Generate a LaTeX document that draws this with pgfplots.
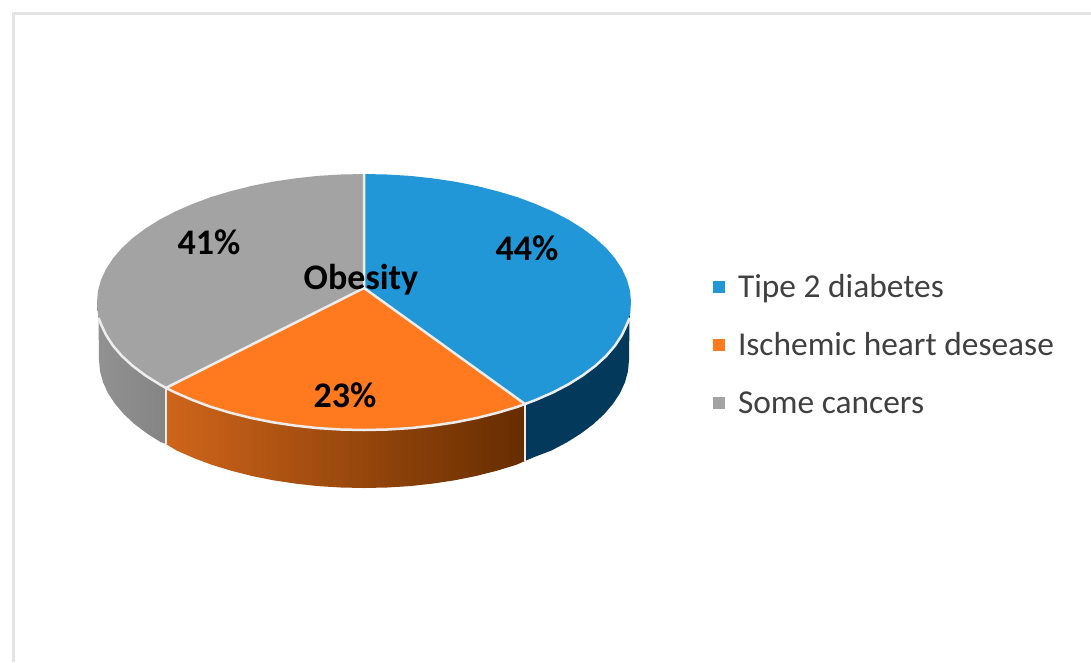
\documentclass[border=0pt]{standalone}
\usepackage{fontspec}
\setmainfont{Carlito}
\usepackage{pgfplots}
\pgfplotsset{compat=1.18}
\definecolor{cblue}{HTML}{2197D7}
\definecolor{cblued}{HTML}{03395A}
\definecolor{corange}{HTML}{FF7A1F}
\definecolor{cgray}{HTML}{A3A3A3}
\definecolor{cedge}{HTML}{EDEDED}
\definecolor{cframe}{HTML}{E4E4E4}
\definecolor{ctext}{HTML}{404040}
\definecolor{cgl}{HTML}{929292}
\definecolor{cgr}{HTML}{848484}
\definecolor{col}{HTML}{CF651B}
\definecolor{cor}{HTML}{662D00}
\begin{document}
\begin{tikzpicture}
\useasboundingbox (0,0) rectangle (1091pt,662pt);
\begin{axis}[
  at={(0,0)}, anchor=south west,
  width=1091pt, height=662pt, scale only axis,
  xmin=0, xmax=1091, ymin=0, ymax=662, y dir=reverse,
  hide axis, clip=false,
  legend cell align=left,
  legend style={at={(axis cs:713,272)}, anchor=north west, draw=none, fill=none,
    font=\fontsize{33.4}{33.4}\selectfont\color{ctext}, row sep=30pt,
    inner sep=0pt, outer sep=0pt,
    /tikz/every odd column/.append style={column sep=12pt}},
]
% frame
\addplot[forget plot, no markers, draw=cframe, line width=3pt] coordinates {(13,662) (13,13) (1091,13)};
% sides
\addplot[forget plot, no markers, draw=none, fill=cblued] coordinates {
(631,302) (630,313.2) (627,324.2) (621.9,335.1) (614.9,345.8) (606,356.1) (595.2,366) (582.7,375.4) (568.5,384.3) (552.8,392.5) (535.6,400) (525,404)
(525,461) (534.3,457) (551.4,450.5) (567,442.3) (581.1,433.4) (593.5,424) (604.2,414.1) (613,403.8) (620,393.1) (625,382.2) (628,371.2) (629,360) (629.5,320)} --cycle;
\addplot[forget plot, no markers, draw=none, left color=cgl, right color=cgr] coordinates {
(97,302) (98,313.2) (101,324.2) (106.1,335.1) (113.1,345.8) (122,356.1) (132.8,366) (145.3,375.4) (159.5,384.3) (166,387.9)
(166,444) (161,442.3) (146.9,433.4) (134.5,424) (123.8,414.1) (115,403.8) (108,393.1) (103,382.2) (100,371.2) (99,360) (98.5,320)} --cycle;
\addplot[forget plot, no markers, draw=none, left color=col, right color=cor] coordinates {
(166,387.9) (175.2,392.5) (192.4,400) (210.8,406.9) (230.5,412.8) (251.2,418) (272.7,422.3) (294.9,425.6) (317.6,428.1) (340.7,429.5) (364,430) (387.3,429.5) (410.4,428.1) (433.1,425.6) (455.3,422.3) (476.8,418) (497.5,412.8) (517.2,406.9) (525,404)
(525,461) (516,464.9) (496.5,470.8) (476,476) (454.6,480.3) (432.6,483.6) (410,486.1) (387.1,487.5) (364,488) (340.9,487.5) (318,486.1) (295.4,483.6) (273.4,480.3) (252,476) (231.5,470.8) (212,464.9) (193.7,458) (176.6,450.5) (166,444)} --cycle;
% top faces
\addplot[forget plot, no markers, draw=none, fill=cgray] coordinates {
(364,288) (166,387.9) (159.5,384.3) (145.3,375.4) (132.8,366) (122,356.1) (113.1,345.8) (106.1,335.1) (101,324.2) (98,313.2) (97,302) (98,290.8) (101,279.8) (106.1,268.9) (113.1,258.2) (122,247.9) (132.8,238) (145.3,228.6) (159.5,219.7) (175.2,211.5) (192.4,204) (210.8,197.1) (230.5,191.2) (251.2,186) (272.7,181.7) (294.9,178.4) (317.6,175.9) (340.7,174.5) (364,174)} --cycle;
\addplot[forget plot, no markers, draw=none, fill=corange] coordinates {
(364,288) (525,404) (517.2,406.9) (497.5,412.8) (476.8,418) (455.3,422.3) (433.1,425.6) (410.4,428.1) (387.3,429.5) (364,430) (340.7,429.5) (317.6,428.1) (294.9,425.6) (272.7,422.3) (251.2,418) (230.5,412.8) (210.8,406.9) (192.4,400) (175.2,392.5) (166,387.9)} --cycle;
\addplot[forget plot, no markers, draw=none, fill=cblue] coordinates {
(364,288) (364,174) (387.3,174.5) (410.4,175.9) (433.1,178.4) (455.3,181.7) (476.8,186) (497.5,191.2) (517.2,197.1) (535.6,204) (552.8,211.5) (568.5,219.7) (582.7,228.6) (595.2,238) (606,247.9) (614.9,258.2) (621.9,268.9) (627,279.8) (630,290.8) (631,302) (630,313.2) (627,324.2) (621.9,335.1) (614.9,345.8) (606,356.1) (595.2,366) (582.7,375.4) (568.5,384.3) (552.8,392.5) (535.6,400) (525,404)} --cycle;
% white edges
\addplot[forget plot, no markers, draw=cedge, line width=2.5pt] coordinates {(525,404) (525,461)};
\addplot[forget plot, no markers, draw=cedge, line width=2.5pt] coordinates {(166,388) (166,444)};
\addplot[forget plot, no markers, draw=cedge, line width=2.5pt, line join=round] coordinates {(364,174) (364,288) (525,404)};
\addplot[forget plot, no markers, draw=cedge, line width=2.5pt] coordinates {(364,288) (166,387.9)};
\addplot[forget plot, no markers, draw=cedge, line width=2.5pt, line join=round] coordinates {
(629.5,318) (627,324.2) (621.9,335.1) (614.9,345.8) (606,356.1) (595.2,366) (582.7,375.4) (568.5,384.3) (552.8,392.5) (535.6,400) (525,404) (517.2,406.9) (497.5,412.8) (476.8,418) (455.3,422.3) (433.1,425.6) (410.4,428.1) (387.3,429.5) (364,430) (340.7,429.5) (317.6,428.1) (294.9,425.6) (272.7,422.3) (251.2,418) (230.5,412.8) (210.8,406.9) (192.4,400) (175.2,392.5) (166,387.9) (159.5,384.3) (145.3,375.4) (132.8,366) (122,356.1) (113.1,345.8) (106.1,335.1) (101,324.2) (98.5,318)};
% labels
\node[font=\fontsize{36}{36}\selectfont\bfseries] at (axis cs:527,248) {44\%};
\node[font=\fontsize{36}{36}\selectfont\bfseries] at (axis cs:209,242) {41\%};
\node[font=\fontsize{36}{36}\selectfont\bfseries] at (axis cs:345,395) {23\%};
\node[font=\fontsize{36}{36}\selectfont\bfseries] at (axis cs:361,280) {Obesity};
% legend
\addlegendimage{only marks, mark=square*, mark size=5.5pt, color=cblue}
\addlegendentry{Tipe 2 diabetes}
\addlegendimage{only marks, mark=square*, mark size=5.5pt, color=corange}
\addlegendentry{Ischemic heart desease}
\addlegendimage{only marks, mark=square*, mark size=5.5pt, color=cgray}
\addlegendentry{Some cancers}
\end{axis}
\end{tikzpicture}
\end{document}
